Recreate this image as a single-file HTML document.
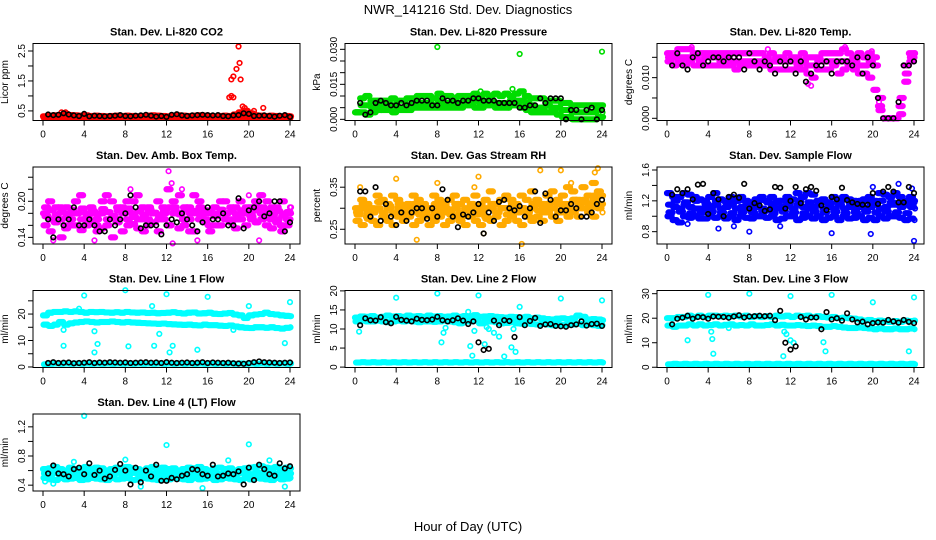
<!DOCTYPE html>
<html><head><meta charset="utf-8"><style>
html,body{margin:0;padding:0;background:#fff;}
svg{display:block;font-family:"Liberation Sans",Arial,sans-serif;}
</style></head><body>
<svg id="chart" width="936" height="540" viewBox="0 0 936 540">
<text x="468" y="14" text-anchor="middle" font-size="13">NWR_141216  Std. Dev. Diagnostics</text>
<text x="468" y="531" text-anchor="middle" font-size="13">Hour of Day (UTC)</text>
</svg>
<script>
const hours=[0,0.5,1,1.5,2,2.5,3,3.5,4,4.5,5,5.5,6,6.5,7,7.5,8,8.5,9,9.5,10,10.5,11,11.5,12,12.5,13,13.5,14,14.5,15,15.5,16,16.5,17,17.5,18,18.5,19,19.5,20,20.5,21,21.5,22,22.5,23,23.5,24];
const xTicks=[0,4,8,12,16,20,24];

const co2A=[0.32,0.34,0.35,0.36,0.40,0.36,0.35,0.34,0.35,0.33,0.34,0.33,0.32,0.33,0.34,0.33,0.34,0.33,0.32,0.33,0.34,0.35,0.34,0.33,0.32,0.34,0.35,0.34,0.33,0.34,0.35,0.34,0.33,0.32,0.33,0.34,0.33,0.38,0.45,0.5,0.42,0.35,0.34,0.33,0.34,0.33,0.32,0.33,0.32];
const co2B=[0.28,0.27,0.28,0.27,0.29,0.28,0.27,0.28,0.27,0.28,0.27,0.28,0.27,0.28,0.27,0.28,0.27,0.28,0.27,0.28,0.27,0.28,0.27,0.28,0.27,0.28,0.27,0.28,0.27,0.28,0.27,0.28,0.27,0.28,0.27,0.28,0.27,0.28,0.30,0.30,0.29,0.28,0.27,0.28,0.27,0.28,0.27,0.28,0.27];
const co2OutX=[18.1,18.3,18.5,18.3,18.5,18.8,19,19.1,19.2,19.4,19.6,20.5,21.4,1.8,2.2];
const co2OutY=[0.95,1.0,0.95,1.55,1.65,1.9,2.65,2.1,1.55,0.65,0.6,0.5,0.6,0.45,0.45];
const co2Blk=[null,0.38,0.36,0.37,0.42,0.38,0.35,0.33,0.40,0.32,0.34,0.33,0.32,0.33,0.34,0.36,0.33,0.32,0.34,0.35,0.37,0.34,0.31,0.33,0.30,0.37,0.39,0.35,0.33,0.35,0.36,0.37,0.36,0.35,0.36,0.33,0.32,0.35,0.36,0.42,0.40,0.33,0.34,0.35,0.33,0.31,0.34,0.36,0.30];

const prA=[0.003,0.009,0.010,0.008,0.008,0.008,0.008,0.009,0.008,0.008,0.009,0.009,0.010,0.010,0.010,0.009,0.011,0.010,0.010,0.009,0.010,0.010,0.010,0.011,0.010,0.011,0.010,0.011,0.010,0.011,0.010,0.011,0.012,0.010,0.009,0.009,0.009,0.008,0.008,0.008,0.007,0.007,0.006,0.006,0.006,0.006,0.006,0.006,0.006];
const prB=[0.003,0.006,0.006,0.005,0.006,0.006,0.006,0.006,0.005,0.005,0.006,0.007,0.007,0.007,0.007,0.006,0.008,0.007,0.007,0.007,0.007,0.008,0.008,0.008,0.007,0.008,0.008,0.007,0.007,0.007,0.008,0.008,0.008,0.007,0.006,0.005,0.005,0.006,0.005,0.005,0.004,0.004,0.003,0.003,0.003,0.003,0.003,0.004,0.003];
const prC=[0.003,0.003,0.002,0.003,0.004,0.004,0.004,0.003,0.004,0.004,0.004,0.005,0.005,0.005,0.005,0.005,0.005,0.005,0.005,0.005,0.005,0.006,0.006,0.005,0.005,0.006,0.006,0.005,0.005,0.005,0.006,0.006,0.005,0.004,0.003,0.003,0.003,0.003,0.003,0.002,0.001,0.001,0.000,0.000,0.000,0.000,0.000,0.001,0.001];
const prOutX=[8,16,24,12.2,15.3];
const prOutY=[0.031,0.028,0.029,0.012,0.013];
const prBlk=[null,0.007,0.002,0.003,0.007,0.008,0.007,0.006,0.006,0.007,0.006,0.007,0.008,0.008,0.008,0.006,0.006,0.009,0.008,0.008,0.007,0.008,0.008,0.009,0.009,0.008,0.008,0.008,0.007,0.007,0.007,0.007,0.005,0.005,0.006,0.006,0.009,0.007,0.009,0.009,0.009,0.000,0.004,0.004,0.000,0.004,0.005,0.000,0.004];

const tmA=[0.016,0.016,0.017,0.017,0.017,0.016,0.016,0.016,0.016,0.016,0.016,0.016,0.016,0.016,0.016,0.016,0.016,0.016,0.016,0.015,0.016,0.015,0.015,0.016,0.015,0.015,0.016,0.015,0.015,0.015,0.016,0.016,0.016,0.016,0.017,0.016,0.015,0.016,0.015,0.016,0.015,0.003,0.000,0.000,0.000,0.003,0.013,0.016,0.016];
const tmB=[0.014,0.013,0.014,0.013,0.014,0.013,0.013,0.013,0.013,0.013,0.013,0.013,0.013,0.012,0.013,0.013,0.013,0.013,0.013,0.013,0.012,0.012,0.012,0.012,0.012,0.012,0.012,0.011,0.010,0.012,0.012,0.012,0.013,0.011,0.012,0.013,0.012,0.011,0.011,0.010,0.007,0.002,0.000,0.000,0.000,0.001,0.009,0.014,0.015];
const tmC=[0.015,0.015,0.015,0.015,0.015,0.015,0.014,0.015,0.015,0.015,0.014,0.015,0.014,0.014,0.014,0.014,0.014,0.014,0.014,0.014,0.014,0.014,0.014,0.014,0.014,0.013,0.014,0.013,0.013,0.014,0.014,0.014,0.014,0.014,0.014,0.014,0.014,0.013,0.013,0.014,0.013,0.005,0.000,0.000,0.000,0.005,0.011,0.015,0.016];
const tmOutX=[13.7,14,17.3,2.4,9.8,19.9,20.6];
const tmOutY=[0.0085,0.008,0.0175,0.0175,0.0170,0.0165,0.0040];
const tmBlk=[null,0.013,0.016,0.013,0.012,0.015,0.016,0.013,0.014,0.015,0.015,0.014,0.015,0.015,0.015,0.012,0.016,0.014,0.012,0.014,0.013,0.011,0.014,0.013,0.014,0.011,0.014,0.009,0.011,0.013,0.013,0.014,0.011,0.014,0.014,0.014,0.013,0.015,0.011,0.015,0.013,0.005,0.000,0.000,0.000,0.004,0.013,0.013,0.014];

const abA=[0.18,0.20,0.17,0.19,0.16,0.18,0.20,0.21,0.17,0.19,0.16,0.18,0.21,0.20,0.17,0.19,0.20,0.18,0.21,0.19,0.17,0.18,0.20,0.19,0.22,0.20,0.18,0.17,0.19,0.21,0.20,0.18,0.16,0.19,0.18,0.20,0.17,0.19,0.20,0.18,0.19,0.20,0.21,0.18,0.17,0.19,0.16,0.18,0.19];
const abB=[0.16,0.15,0.165,0.17,0.155,0.17,0.16,0.152,0.18,0.163,0.17,0.155,0.16,0.172,0.165,0.15,0.17,0.162,0.155,0.17,0.16,0.165,0.15,0.17,0.16,0.18,0.155,0.16,0.17,0.15,0.17,0.165,0.15,0.175,0.16,0.17,0.165,0.155,0.17,0.16,0.175,0.165,0.18,0.16,0.155,0.165,0.15,0.16,0.17];
const abC=[0.19,0.17,0.19,0.14,0.19,0.16,0.18,0.17,0.16,0.18,0.15,0.20,0.17,0.14,0.19,0.18,0.16,0.20,0.17,0.15,0.19,0.18,0.17,0.18,0.16,0.19,0.21,0.19,0.15,0.18,0.19,0.17,0.18,0.16,0.20,0.18,0.19,0.17,0.18,0.19,0.17,0.19,0.17,0.20,0.19,0.17,0.20,0.17,0.18];
const abD=[0.175,0.185,0.178,0.182,0.174,0.186,0.18,0.188,0.176,0.184,0.179,0.187,0.182,0.176,0.185,0.18,0.188,0.174,0.183,0.178,0.186,0.181,0.177,0.185,0.19,0.183,0.178,0.186,0.18,0.184,0.177,0.185,0.181,0.176,0.186,0.18,0.183,0.178,0.185,0.18,0.184,0.187,0.19,0.185,0.178,0.184,0.176,0.182,0.18];
const abOutX=[12.2,12.5,8.5,13.5,20,12.6,21,1,0.5,15,5];
const abOutY=[0.25,0.23,0.22,0.22,0.21,0.13,0.135,0.135,0.20,0.135,0.135];
const abBlk=[null,0.17,0.14,0.17,0.16,0.17,0.19,0.16,0.16,0.17,0.16,0.15,0.15,0.17,0.16,0.17,0.18,0.21,0.19,0.155,0.16,0.16,0.16,0.145,0.16,0.17,0.165,0.18,0.17,0.16,0.15,0.165,0.19,0.17,0.17,0.18,0.16,0.16,0.205,0.155,0.185,0.19,0.2,0.175,0.18,0.2,0.2,0.15,0.165];

const rhA=[0.30,0.32,0.31,0.30,0.33,0.32,0.31,0.33,0.32,0.30,0.31,0.33,0.32,0.31,0.30,0.33,0.32,0.31,0.32,0.33,0.31,0.32,0.30,0.33,0.31,0.32,0.34,0.31,0.32,0.33,0.32,0.31,0.33,0.32,0.34,0.32,0.31,0.33,0.34,0.32,0.33,0.35,0.34,0.32,0.35,0.33,0.36,0.34,0.33];
const rhB=[0.27,0.26,0.28,0.27,0.26,0.28,0.27,0.26,0.28,0.27,0.28,0.26,0.27,0.28,0.26,0.27,0.28,0.26,0.27,0.28,0.27,0.26,0.28,0.27,0.26,0.28,0.27,0.28,0.26,0.27,0.28,0.27,0.26,0.28,0.27,0.28,0.27,0.29,0.28,0.27,0.29,0.28,0.29,0.28,0.30,0.29,0.28,0.30,0.29];
const rhC=[0.29,0.30,0.29,0.29,0.30,0.29,0.30,0.29,0.30,0.29,0.30,0.29,0.30,0.29,0.30,0.29,0.30,0.29,0.29,0.30,0.29,0.30,0.29,0.30,0.29,0.30,0.30,0.29,0.30,0.30,0.29,0.30,0.30,0.29,0.30,0.31,0.30,0.31,0.30,0.31,0.30,0.31,0.32,0.31,0.32,0.31,0.32,0.33,0.31];
const rhD=[0.285,0.31,0.275,0.295,0.315,0.28,0.305,0.285,0.31,0.28,0.295,0.31,0.285,0.30,0.28,0.31,0.29,0.30,0.285,0.31,0.28,0.295,0.31,0.285,0.30,0.275,0.31,0.29,0.30,0.285,0.31,0.29,0.30,0.28,0.31,0.295,0.29,0.30,0.315,0.29,0.31,0.30,0.32,0.30,0.315,0.30,0.33,0.31,0.30];
const rhOutX=[0.5,12,11.6,8,4,21,23.3,23.6,12.5,20,18,6,16.2];
const rhOutY=[0.35,0.375,0.35,0.36,0.37,0.36,0.385,0.395,0.24,0.39,0.39,0.225,0.215];
const rhBlk=[null,0.34,0.34,0.28,0.35,0.27,0.31,0.28,0.26,0.29,0.27,0.29,0.30,0.30,0.275,0.3,0.28,0.345,0.32,0.28,0.255,0.285,0.28,0.29,0.31,0.24,0.29,0.27,0.315,0.32,0.30,0.295,0.305,0.28,0.30,0.34,0.265,0.335,0.32,0.28,0.295,0.295,0.31,0.30,0.28,0.28,0.29,0.31,0.32];

const sfA=[1.3,1.25,1.25,1.3,1.28,1.25,1.22,1.2,1.25,1.3,1.22,1.2,1.25,1.2,1.25,1.2,1.18,1.22,1.25,1.2,1.25,1.18,1.2,1.25,1.22,1.3,1.25,1.3,1.28,1.2,1.22,1.18,1.25,1.2,1.25,1.22,1.2,1.18,1.22,1.25,1.2,1.3,1.28,1.25,1.3,1.25,1.2,1.25,1.2];
const sfB=[1.0,0.95,0.92,1.0,0.98,1.0,0.97,0.97,1.0,0.98,1.0,0.97,1.0,0.95,1.0,0.98,0.97,1.0,1.0,0.98,1.0,0.95,0.97,1.0,1.0,0.95,0.98,1.0,0.97,1.0,0.95,0.98,1.0,0.95,1.0,0.97,0.98,1.0,0.95,0.98,0.95,1.0,0.97,1.0,1.0,0.98,0.95,0.97,0.95];
const sfC=[1.15,1.12,1.1,1.15,1.12,1.1,1.1,1.08,1.12,1.15,1.1,1.12,1.15,1.1,1.12,1.15,1.1,1.12,1.1,1.08,1.12,1.1,1.12,1.15,1.1,1.15,1.12,1.1,1.12,1.15,1.1,1.12,1.1,1.15,1.1,1.12,1.1,1.12,1.1,1.12,1.15,1.1,1.12,1.15,1.15,1.12,1.15,1.12,1.1];
const sfD=[1.05,1.2,1.06,1.18,1.04,1.2,1.05,1.16,1.06,1.2,1.05,1.18,1.04,1.2,1.06,1.17,1.05,1.2,1.06,1.18,1.04,1.2,1.06,1.18,1.05,1.2,1.04,1.18,1.06,1.2,1.05,1.17,1.06,1.2,1.04,1.18,1.05,1.2,1.06,1.18,1.05,1.2,1.06,1.18,1.05,1.2,1.04,1.18,1.05];
const sfOutX=[5,8,16,19.8,24,2,6.5,11,0.2,20,22.5,23.8];
const sfOutY=[0.84,0.8,0.78,0.77,0.68,0.9,0.87,0.87,1.3,1.38,1.42,1.36];
const sfBlk=[null,1.28,1.35,1.3,1.35,1.22,1.41,1.42,1.03,1.3,1.22,1.0,1.25,1.28,1.24,1.42,1.1,1.17,1.14,1.07,1.09,1.38,1.37,1.1,1.2,1.38,1.17,1.35,1.38,1.33,1.14,1.08,1.25,1.22,1.37,1.21,1.18,1.16,1.15,1.15,1.3,1.16,1.32,1.38,1.32,1.18,1.18,1.38,1.3];

const l1U=[19.5,20.5,20.8,20.8,21,20.8,21,20.8,20.5,20.8,20.7,20.8,20.6,20.5,20.7,20.5,20.8,20.6,20.5,20.6,20.4,20.5,20.3,20.4,20.5,20.7,20.4,20.2,20.5,20.6,20.2,20.3,20.5,20.1,20,20.2,20.4,19.8,19.5,18.5,19.5,19.8,20,20.5,20,19.8,19.5,19.3,19.2];
const l1L=[16,15.5,16,17,16,16.5,16.8,17,17.2,17,16.8,17,17,17.2,17,16.8,17,16.8,16.7,16.6,16.5,16.4,16.3,16.4,16.2,16.1,16,15.9,16,15.8,15.7,16,15.8,15.8,15.6,15.5,15.7,15.3,15.0,14.8,14.7,15,15,14.8,15,14.7,14.5,14.8,15];
const l1Base=[1,1.2,1.3,1.2,1.3,1.2,1.3,1.2,1.3,1.2,1.3,1.2,1.3,1.2,1.3,1.2,1.3,1.2,1.3,1.2,1.3,1.2,1.3,1.2,1.3,1.2,1.3,1.2,1.3,1.2,1.3,1.2,1.3,1.2,1.3,1.2,1.3,1.2,1.3,1.2,1.3,1.2,1.3,1.2,1.3,1.2,1.3,1.2,1.3];
const l1OutX=[4,8,12,16,20,24,2,5,5.3,8.3,10.8,11.3,12.3,12.6,15,23.5,5,10.6,3.5,2,18.5];
const l1OutY=[27,29,27.5,26.5,23,24.5,8,5.5,8.7,7.8,8,12.5,5.5,8,6.5,9,13.5,23,22,14,14];
const l1Blk=[null,1.5,1.8,1.5,1.6,1.7,1.4,1.5,1.6,1.8,1.5,1.7,1.6,1.8,1.7,1.6,1.7,1.5,1.6,1.7,1.8,1.6,1.7,1.5,1.8,1.6,1.5,1.6,1.7,1.5,1.6,1.8,1.5,1.7,1.6,1.5,1.6,1.4,1.3,1.2,1.5,1.8,2.1,1.8,1.7,1.6,1.5,1.6,1.7];

const l2U=[13,13.3,13.2,13.4,13,13.2,13.5,13.3,13.4,13.2,13.5,13.3,13.4,13.2,13.5,13.3,13.4,13.2,13.3,13.5,13.2,13.4,13.3,13.6,13.2,13.3,13.4,13.2,13.1,13.0,13.2,13.1,13.0,13.2,12.8,13.0,12.8,12.6,12.5,12.7,12.8,12.6,12.8,13.5,13.2,12.5,12.6,12.5,12.3];
const l2L=[12,12.2,12,12,12.2,12,11.8,12,12.2,12,12.1,12,11.8,12,12,11.9,12,12.2,12,11.8,11.5,12,12,12.2,11.5,12,12,11.8,11.5,11.6,11.8,11.5,11.4,11.5,11.3,11.2,11.4,11.2,11.0,11.2,11.0,11.3,11.2,11.4,11.0,11.2,11.0,10.8,11];
const l2Base=[1.2,1.3,1.2,1.3,1.2,1.3,1.2,1.3,1.2,1.3,1.2,1.3,1.2,1.3,1.2,1.3,1.2,1.3,1.2,1.3,1.2,1.3,1.2,1.3,1.2,1.3,1.2,1.3,1.2,1.3,1.2,1.3,1.2,1.3,1.2,1.3,1.2,1.3,1.2,1.3,1.2,1.3,1.2,1.3,1.2,1.3,1.2,1.3,1.2];
const l2OutX=[4,8,12,16,20,24,0.4,8.4,8.6,8.8,11.2,11.4,11.6,12.2,12.6,12.8,13.5,14,14.5,15.2,15.4,15.6,16,13,11];
const l2OutY=[18.2,19.3,18.8,15.8,18,17.5,9.3,6.5,9,10.3,5.5,3,9.5,12.5,6,10.5,9,8,2.8,5.2,10,4,13,10,14.5];
const l2Blk=[null,11,12.8,12.3,12.2,13.1,11.8,11.5,13.2,12.4,12.2,12.0,12.7,12.4,12.3,12.5,13.2,12.3,12.0,12.3,12.8,12.2,11.3,12.0,6.5,4.5,4.8,12.2,11.0,12.3,12.1,7.9,13.1,11.0,12.1,12.9,10.8,11.2,11.3,10.8,10.7,10.6,11.0,11.2,12.0,10.9,11.3,11.4,10.8];

const l3U=[20,20,20.5,20.5,21,20.5,21,20.5,21,21,20.8,21,20.8,21,20.7,21,20.5,20.8,20.5,20.8,20.5,21,20.7,21,20.5,21,20.8,21,20.5,20.8,20.5,20.3,20.5,20,20.2,20,19.8,19.5,19,19.3,18.8,19,18.8,18.5,18.8,18.5,19,18.8,19];
const l3L=[17,16.5,17,17,17.5,17,17.5,17,17.2,17.5,17,17.3,17.5,17,17.2,17,17.5,17,17,17.2,17.5,17,17.3,17,17,17.2,17,16.8,17,16.8,16.5,16.5,16.8,16.5,16.2,16,16,16.2,16,15.8,15.5,15.8,15.5,15.5,15.8,15.5,15.5,15.8,15.5];
const l3Base=[1.2,1.4,1.2,1.4,1.2,1.4,1.2,1.4,1.2,1.4,1.2,1.4,1.2,1.4,1.2,1.4,1.2,1.4,1.2,1.4,1.2,1.4,1.2,1.4,1.2,1.4,1.2,1.4,1.2,1.4,1.2,1.4,1.2,1.4,1.2,1.4,1.2,1.4,1.2,1.4,1.2,1.4,1.2,1.4,1.2,1.4,1.2,1.4,1.2];
const l3OutX=[4,8,12,16,20,24,2,4.3,4.4,4.5,11.3,11.6,11.4,12,12.3,15.2,15.4,23.5,6];
const l3OutY=[29.5,30,29,29.5,26.5,28.5,11,14.5,11.5,5.5,4.5,13.5,14.5,11,10,10.2,6.5,6.5,16];
const l3Blk=[null,17.5,19.8,20.2,21,19.8,20.5,20.4,19.8,20.7,20.6,20.5,20.2,20.7,21.2,20.3,20.7,20.8,21,20.8,21.0,19.2,23,10,7.2,8.5,20.5,19.5,20.3,20.3,15.5,22.5,19.5,20,19,22,19.5,18.3,18.6,17.5,18.0,18.3,18.2,19.3,18.7,18.2,19.3,18.5,18];

const l4A=[0.62,0.63,0.65,0.62,0.6,0.64,0.62,0.63,0.65,0.62,0.64,0.63,0.6,0.62,0.64,0.62,0.65,0.63,0.62,0.6,0.63,0.65,0.62,0.64,0.62,0.63,0.6,0.62,0.64,0.63,0.65,0.62,0.6,0.63,0.64,0.62,0.63,0.6,0.62,0.63,0.64,0.65,0.66,0.64,0.63,0.65,0.62,0.64,0.63];
const l4B=[0.5,0.48,0.47,0.5,0.48,0.49,0.5,0.47,0.48,0.5,0.49,0.48,0.47,0.5,0.48,0.49,0.5,0.47,0.48,0.5,0.49,0.48,0.47,0.5,0.48,0.5,0.49,0.48,0.47,0.5,0.48,0.49,0.5,0.47,0.48,0.5,0.49,0.48,0.47,0.5,0.48,0.5,0.49,0.48,0.47,0.5,0.48,0.49,0.5];
const l4C=[0.56,0.55,0.57,0.56,0.55,0.57,0.56,0.55,0.57,0.56,0.55,0.57,0.56,0.55,0.57,0.56,0.55,0.57,0.56,0.55,0.57,0.56,0.55,0.57,0.56,0.55,0.57,0.56,0.55,0.57,0.56,0.55,0.57,0.56,0.55,0.57,0.56,0.55,0.57,0.56,0.55,0.57,0.56,0.55,0.57,0.56,0.55,0.57,0.56];
const l4OutX=[4,12,20,0.2,1,15.5,9.5,23.5,8,18,22,3];
const l4OutY=[1.35,0.95,0.96,0.45,0.42,0.36,0.38,0.38,0.75,0.74,0.74,0.72];
const l4Blk=[null,0.56,0.67,0.56,0.55,0.52,0.62,0.64,0.55,0.70,0.54,0.60,0.49,0.52,0.61,0.69,0.60,0.41,0.64,0.44,0.60,0.52,0.68,0.46,0.46,0.50,0.48,0.53,0.55,0.62,0.61,0.55,0.53,0.68,0.52,0.53,0.56,0.55,0.59,0.41,0.64,0.47,0.68,0.62,0.55,0.53,0.70,0.63,0.66];

const panels=[
 {name:'co2',col:0,row:0,title:'Stan. Dev. Li-820 CO2',ylab:'Licor ppm',ymin:0.18,ymax:2.75,ticks:[0.5,1,1.5,2,2.5],labels:['0.5','','1.5','','2.5'],color:'#ff0000',layers:[co2A,co2B],ox:co2OutX,oy:co2OutY,blk:co2Blk},
 {name:'pressure',col:1,row:0,title:'Stan. Dev. Li-820 Pressure',ylab:'kPa',ymin:-0.0005,ymax:0.0325,ticks:[0,0.005,0.01,0.015,0.02,0.025,0.03],labels:['0.000','','','0.015','','','0.030'],color:'#00dd00',layers:[prA,prB,prC],ox:prOutX,oy:prOutY,blk:prBlk},
 {name:'temp',col:2,row:0,title:'Stan. Dev. Li-820 Temp.',ylab:'degrees C',ymin:-0.00054,ymax:0.0184,ticks:[0,0.005,0.01,0.015],labels:['0.000','','0.010',''],color:'#ff00ff',layers:[tmA,tmB,tmC],ox:tmOutX,oy:tmOutY,blk:tmBlk},
 {name:'amb-box',col:0,row:1,title:'Stan. Dev. Amb. Box Temp.',ylab:'degrees C',ymin:0.129,ymax:0.257,ticks:[0.14,0.16,0.18,0.2,0.22,0.24],labels:['0.14','','','0.20','',''],color:'#ff00ff',layers:[abA,abB,abC,abD],ox:abOutX,oy:abOutY,blk:abBlk},
 {name:'gas-rh',col:1,row:1,title:'Stan. Dev. Gas Stream RH',ylab:'percent',ymin:0.215,ymax:0.398,ticks:[0.25,0.3,0.35],labels:['0.25','','0.35'],color:'#ffaa00',layers:[rhA,rhB,rhC,rhD],ox:rhOutX,oy:rhOutY,blk:rhBlk},
 {name:'sample-flow',col:2,row:1,title:'Stan. Dev. Sample Flow',ylab:'ml/min',ymin:0.64,ymax:1.639,ticks:[0.8,1.0,1.2,1.4,1.6],labels:['0.8','','1.2','','1.6'],color:'#0000ff',layers:[sfA,sfB,sfC,sfD],ox:sfOutX,oy:sfOutY,blk:sfBlk},
 {name:'line1',col:0,row:2,title:'Stan. Dev. Line 1 Flow',ylab:'ml/min',ymin:-0.2,ymax:28.9,ticks:[0,5,10,15,20,25],labels:['0','','10','','20',''],color:'#00ffff',layers:[l1U,l1L,l1Base],ox:l1OutX,oy:l1OutY,blk:l1Blk},
 {name:'line2',col:1,row:2,title:'Stan. Dev. Line 2 Flow',ylab:'ml/min',ymin:-0.1,ymax:20.1,ticks:[0,5,10,15,20],labels:['0','5','10','15','20'],color:'#00ffff',layers:[l2U,l2L,l2Base],ox:l2OutX,oy:l2OutY,blk:l2Blk},
 {name:'line3',col:2,row:2,title:'Stan. Dev. Line 3 Flow',ylab:'ml/min',ymin:-0.1,ymax:31.3,ticks:[0,10,20,30],labels:['0','10','20','30'],color:'#00ffff',layers:[l3U,l3L,l3Base],ox:l3OutX,oy:l3OutY,blk:l3Blk},
 {name:'line4',col:0,row:3,title:'Stan. Dev. Line 4 (LT) Flow',ylab:'ml/min',ymin:0.32,ymax:1.376,ticks:[0.4,0.6,0.8,1.0,1.2],labels:['0.4','','0.8','','1.2'],color:'#00ffff',layers:[l4A,l4B,l4C],ox:l4OutX,oy:l4OutY,blk:l4Blk}
];

const NS='http://www.w3.org/2000/svg';
const svg=document.getElementById('chart');
function mk(tag,attrs,parent){const e=document.createElementNS(NS,tag);for(const k in attrs)e.setAttribute(k,attrs[k]);parent.appendChild(e);return e;}
const copies=[0,0.1,0.2,0.3,0.4];

panels.forEach(p=>{
  const L=33+312*p.col, T=43.5+123.5*p.row, W=267, H=77;
  const xs=h=>L+10+h*(247/24);
  const ys=v=>T+H-(v-p.ymin)/(p.ymax-p.ymin)*H;
  const g=mk('g',{},svg);
  
  
  const t=mk('text',{x:L+W/2,y:T-8,'text-anchor':'middle','font-size':'11','font-weight':'bold'},g);
  t.textContent=p.title;
  
  
  const yl=mk('text',{x:0,y:0,'text-anchor':'middle','font-size':'10',transform:`translate(${L-25},${T+H/2}) rotate(-90)`},g);
  yl.textContent=p.ylab;
  
  
  const marks=mk('g',{fill:'none','stroke-width':'1.6'},g);
  
  
  p.layers.forEach((arr,k)=>{
    arr.forEach((v,i)=>{
      if(v==null)return;
      copies.forEach(off=>{
        const h=hours[i]+off+k*0.05;
        if(h>24.1)return;
        const c=mk('circle',{cx:xs(h),cy:ys(v),r:2.3,stroke:p.color},marks);
        
        
      });
    });
  });
  p.ox.forEach((x,i)=>{
    const c=mk('circle',{cx:xs(x),cy:ys(p.oy[i]),r:2.3,stroke:p.color},marks);
    
    
  });
  p.blk.forEach((v,i)=>{
    if(v==null)return;
    const c=mk('circle',{cx:xs(hours[i]),cy:ys(v),r:2.3,stroke:'#000'},marks);
    
    
  });
  const box=mk('rect',{x:L,y:T,width:W,height:H,fill:'none',stroke:'#000','stroke-width':'1'},g);
  
  
  const xa=mk('g',{},g);
  
  
  xTicks.forEach(tk=>{
    mk('line',{x1:xs(tk),x2:xs(tk),y1:T+H,y2:T+H+5,stroke:'#000'},xa);
    const tl=mk('text',{x:xs(tk),y:T+H+17,'text-anchor':'middle','font-size':'10'},xa);
    tl.textContent=tk;
    
    
  });
  const ya=mk('g',{},g);
  
  
  p.ticks.forEach((tk,i)=>{
    mk('line',{x1:L-5,x2:L,y1:ys(tk),y2:ys(tk),stroke:'#000'},ya);
    if(p.labels[i]){
      const tl=mk('text',{x:0,y:0,'text-anchor':'middle','font-size':'10',transform:`translate(${L-8},${ys(tk)}) rotate(-90)`},ya);
      tl.textContent=p.labels[i];
      
      
    }
  });
});
</script>
</body></html>
